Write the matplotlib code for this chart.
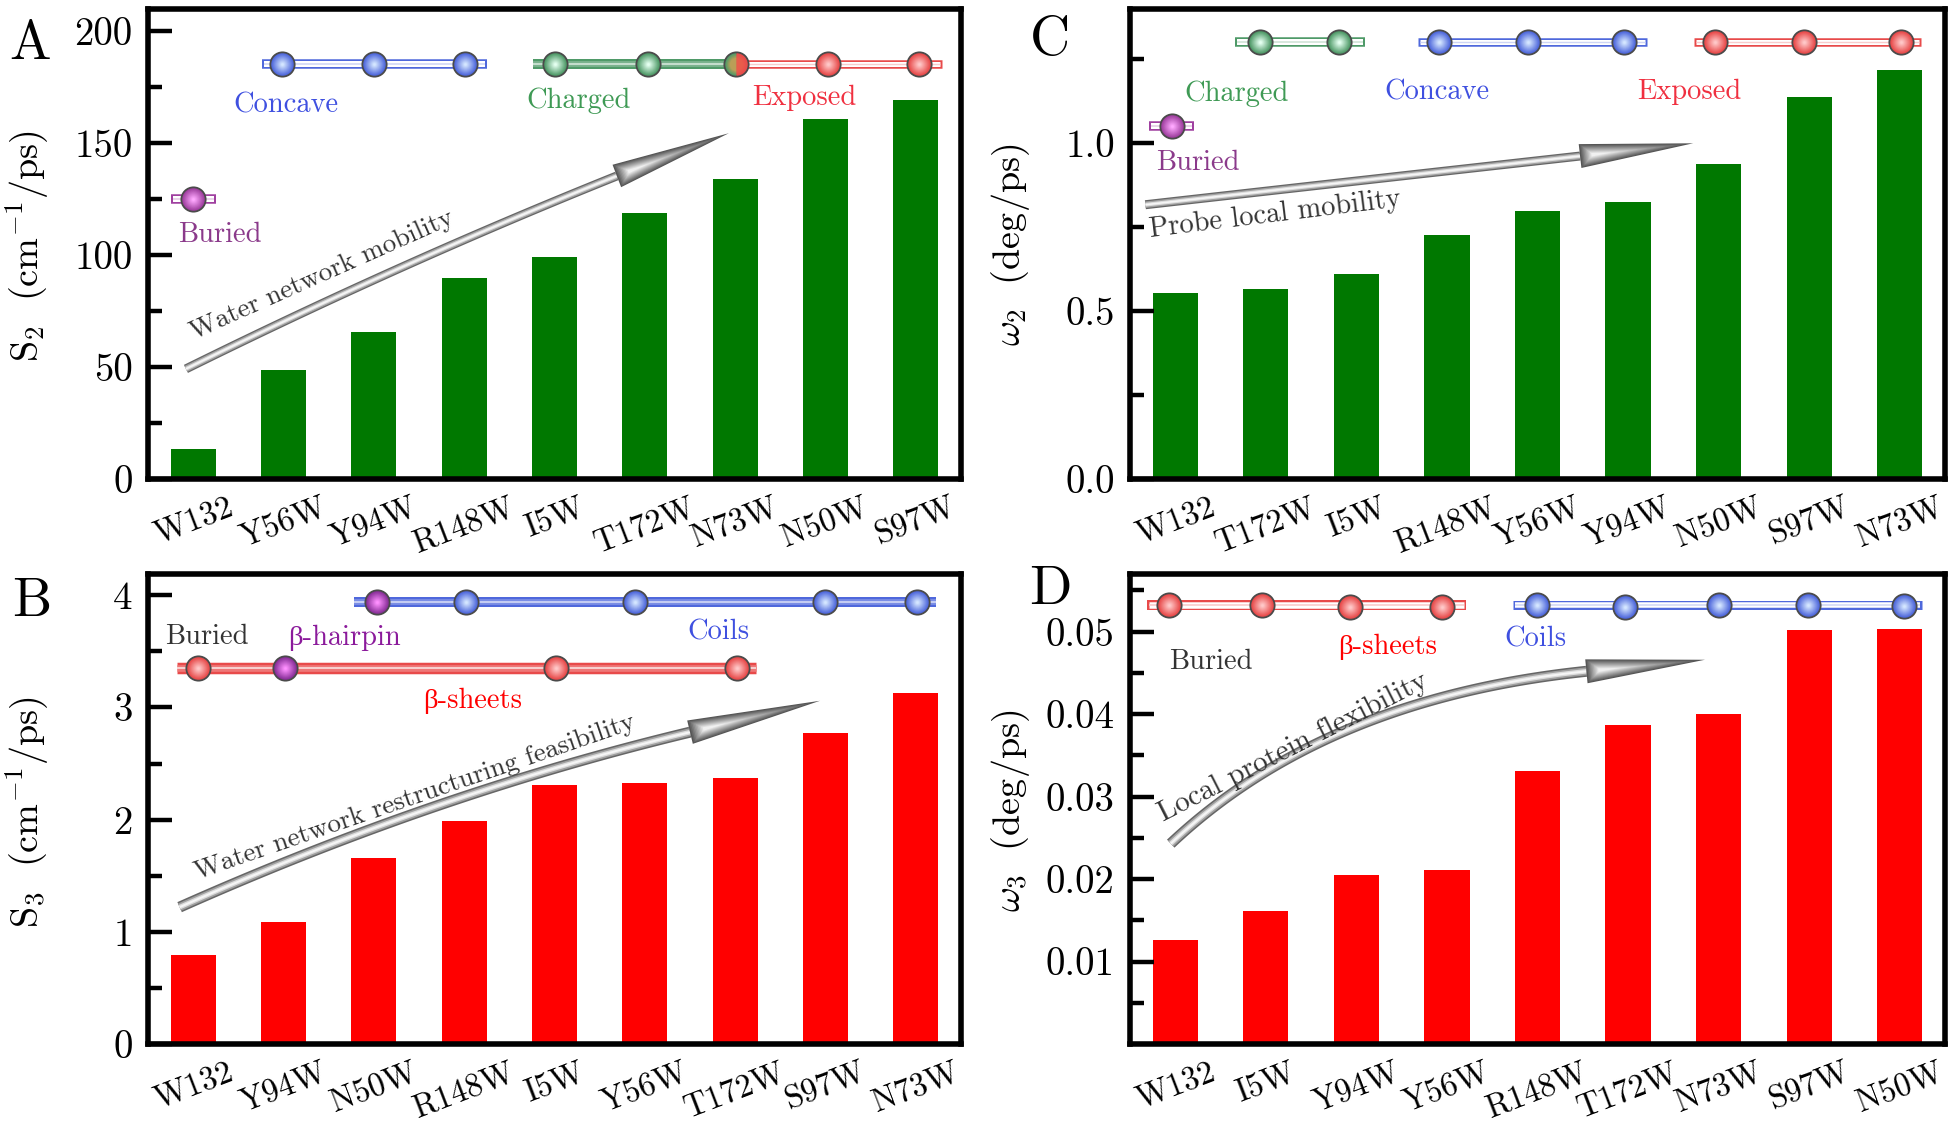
import numpy as np
import matplotlib
matplotlib.use("Agg")
import matplotlib.pyplot as plt
from matplotlib.patches import Polygon
from matplotlib.transforms import IdentityTransform

W, H = 1950, 1121

labels_a = ["W132", "Y56W", "Y94W", "R148W", "I5W", "T172W", "N73W", "N50W", "S97W"]
values_a = [13.4, 48.6, 65.6, 89.8, 99, 119, 134, 161, 169.4]
labels_b = ["W132", "Y94W", "N50W", "R148W", "I5W", "Y56W", "T172W", "S97W", "N73W"]
values_b = [0.796, 1.089, 1.662, 1.99, 2.306, 2.33, 2.37, 2.77, 3.13]
labels_c = ["W132", "T172W", "I5W", "R148W", "Y56W", "Y94W", "N50W", "S97W", "N73W"]
values_c = [0.553, 0.565, 0.612, 0.727, 0.797, 0.826, 0.937, 1.139, 1.218]
labels_d = ["W132", "I5W", "Y94W", "Y56W", "R148W", "T172W", "N73W", "S97W", "N50W"]
values_d = [0.0126, 0.0161, 0.0205, 0.0211, 0.0331, 0.0387, 0.0400, 0.0502, 0.0503]

GREEN = "#007800"
RED = "#ff0000"
TXT_BLUE = "#3f50e0"
TXT_GREEN = "#3f9a55"
TXT_RED = "#f03040"
TXT_PURPLE = "#8b3a8b"
TXT_HAIRPIN = "#8b1a9b"
TXT_DARK = "#333333"

# base colour, centre colour of the beads and tubes
BEADS = {
    "blue": ("#4f68dc", "#d4e6ff"),
    "green": ("#4f9a68", "#e4fff0"),
    "red": ("#e84a4a", "#ffc8c8"),
    "purple": ("#a040a0", "#ffa8ff"),
    "magenta": ("#8a309a", "#ff90ff"),
}

plt.rcParams["font.family"] = ["cmr10", "DejaVu Sans"]
plt.rcParams["mathtext.fontset"] = "cm"
plt.rcParams["axes.formatter.use_mathtext"] = True
plt.rcParams["axes.unicode_minus"] = False

fig = plt.figure(figsize=(W / 100, H / 100), dpi=100)


def make_axes(l, t, r, b):
    return fig.add_axes([l / W, 1 - b / H, (r - l) / W, (b - t) / H])


def mix(c1, c2, f):
    a = np.array(matplotlib.colors.to_rgb(c1))
    b = np.array(matplotlib.colors.to_rgb(c2))
    return tuple(a + (b - a) * f)


def panel(ax, labels, values, color, ylim, major, major_labels, minor):
    ax.bar(range(len(values)), values, width=0.5, color=color)
    ax.set_xlim(-0.5, 8.5)
    ax.set_ylim(*ylim)
    ax.set_xticks(range(len(labels)))
    ax.set_xticklabels(labels, rotation=21, ha="center", fontsize=23.5)
    ax.set_yticks(major)
    ax.set_yticklabels(major_labels, fontsize=28)
    ax.set_yticks(minor, minor=True)
    ax.tick_params(axis="x", length=0, pad=10)
    ax.tick_params(axis="y", which="major", direction="in", length=17, width=3.2, pad=11)
    ax.tick_params(axis="y", which="minor", direction="in", length=10, width=3.2)
    for s in ax.spines.values():
        s.set_linewidth(4)


def tube(ax, x0, x1, y, family, thick=9.5, filled=False):
    base, centre = BEADS[family]
    ax.plot([x0, x1], [y, y], color=base, lw=thick * 0.72, solid_capstyle="butt", zorder=3)
    if filled:
        ax.plot([x0, x1], [y, y], color=mix(base, "white", 0.25), lw=thick * 0.42,
                solid_capstyle="butt", zorder=3.1)
        ax.plot([x0, x1], [y, y], color=mix(base, "white", 0.75), lw=thick * 0.12,
                solid_capstyle="butt", zorder=3.2)
    else:
        ax.plot([x0 + 0.022, x1 - 0.022], [y, y], color="white", lw=(thick - 3.5) * 0.72,
                solid_capstyle="butt", zorder=3.1)
        ax.plot([x0 + 0.022, x1 - 0.022], [y, y], color=mix(base, "white", 0.72), lw=thick * 0.12,
                solid_capstyle="butt", zorder=3.2)


def bead(ax, x, y, family, size=18.8):
    base, centre = BEADS[family]
    ax.scatter([x], [y], s=size ** 2, color="#4a4a4a", linewidths=0, zorder=4)
    for i, f in enumerate(np.linspace(0, 1, 12)):
        d = (size - 2.6) * (1 - f * 0.88)
        ax.scatter([x], [y], s=d ** 2, color=mix(base, centre, f), linewidths=0, zorder=4.1 + i * 0.01)


def split_bead(ax, x, y, left, right, size=18.8):
    ax.scatter([x], [y], s=size ** 2, color="#4a4a4a", linewidths=0, zorder=4)
    for i, f in enumerate(np.linspace(0, 0.7, 8)):
        d = (size - 2.6) * (1 - f * 0.6)
        ax.plot([x], [y], marker="o", ms=d, fillstyle="left", markeredgewidth=0,
                markerfacecolor=mix(BEADS[left][0], "#e8a050", f),
                markerfacecoloralt=mix(BEADS[right][0], "#e8a050", f * 0.3), zorder=4.1 + i * 0.01)


def arrow(ax, start, ctrl, neck, tip, body=9):
    pts = ax.transData.transform([start, ctrl, neck, tip])
    t = np.linspace(0, 1, 80)[:, None]
    curve = (1 - t) ** 2 * pts[0] + 2 * t * (1 - t) * pts[1] + t ** 2 * pts[2]
    for f, col in [(1.0, "#666666"), (0.72, "#a0a0a0"), (0.42, "#dcdcdc"), (0.18, "#f6f6f6")]:
        ax.plot(curve[:, 0], curve[:, 1], color=col, lw=body * f * 0.72, solid_capstyle="butt",
                transform=IdentityTransform(), zorder=3)
    d = pts[3] - pts[2]
    n = np.array([-d[1], d[0]]) / np.hypot(*d)
    for i, f in enumerate(np.linspace(0, 1, 10)):
        half = 12 * (1 - 0.85 * f)
        base_pt = pts[2] + d * 0.1 * f
        end = pts[2] + d * (1 - 0.72 * f)
        col = mix("#555555", "#f0f0f0", f)
        ax.add_patch(Polygon([base_pt + n * half, end, base_pt - n * half], closed=True,
                             facecolor=col, edgecolor="none",
                             transform=IdentityTransform(), zorder=3.2 + i * 0.01))


def note(ax, x, y, s, c, **kw):
    ax.annotate(s, (x, y), xytext=(0, -1.8), textcoords="offset points", color=c,
                fontsize=kw.get("fontsize", 20.5), ha="center", va="center",
                family=["cmr10", "Liberation Serif"])


ax_a = make_axes(148, 9, 961, 479)
ax_c = make_axes(1130, 9, 1945, 479)
ax_b = make_axes(148, 574, 961, 1044)
ax_d = make_axes(1130, 574, 1945, 1044)

panel(ax_a, labels_a, values_a, GREEN, (0, 210), [0, 50, 100, 150, 200],
      ["0", "50", "100", "150", "200"], [25, 75, 125, 175])
panel(ax_b, labels_b, values_b, RED, (0, 4.19), [0, 1, 2, 3, 4],
      ["0", "1", "2", "3", "4"], [0.5, 1.5, 2.5, 3.5])
panel(ax_c, labels_c, values_c, GREEN, (0, 1.40), [0, 0.5, 1.0],
      ["0.0", "0.5", "1.0"], [0.25, 0.75, 1.25])
panel(ax_d, labels_d, values_d, RED, (0, 0.057), [0.01, 0.02, 0.03, 0.04, 0.05],
      ["0.01", "0.02", "0.03", "0.04", "0.05"],
      [0.005, 0.015, 0.025, 0.035, 0.045, 0.055])

# panel A decorations
tube(ax_a, 0.76, 3.25, 185.4, "blue")
tube(ax_a, 3.76, 6.01, 185.4, "green", thick=10, filled=True)
tube(ax_a, 6.01, 8.29, 185.4, "red", thick=8.5)
tube(ax_a, -0.25, 0.25, 125.3, "purple")
for x in [0.98, 2.0, 3.01]:
    bead(ax_a, x, 185.4, "blue")
for x in [4.0, 5.03]:
    bead(ax_a, x, 185.4, "green")
for x in [7.03, 8.03]:
    bead(ax_a, x, 185.4, "red")
split_bead(ax_a, 6.01, 185.4, "green", "red")
bead(ax_a, 0, 125.3, "purple")
for x, y, s, c in [(1.03, 168, "Concave", TXT_BLUE), (4.27, 170, "Charged", TXT_GREEN),
                   (6.77, 171.5, "Exposed", TXT_RED), (0.3, 110, "Buried", TXT_PURPLE)]:
    note(ax_a, x, y, s, c)
arrow(ax_a, (-0.08, 49.2), (2.30, 96.7), (4.69, 135.4), (5.93, 154.5))
ax_a.text(1.43, 91, "Water network mobility", color=TXT_DARK, fontsize=19.5, rotation=24,
          ha="center", va="center")

# panel C decorations
tube(ax_c, 0.66, 2.10, 1.303, "green")
tube(ax_c, 2.68, 5.21, 1.303, "blue", thick=8.5)
tube(ax_c, 5.73, 8.24, 1.303, "red", thick=8.5)
tube(ax_c, -0.29, 0.21, 1.051, "purple")
for x in [0.94, 1.81]:
    bead(ax_c, x, 1.303, "green")
for x in [2.91, 3.90, 4.95]:
    bead(ax_c, x, 1.303, "blue")
for x in [5.96, 6.94, 8.01]:
    bead(ax_c, x, 1.303, "red")
bead(ax_c, -0.04, 1.051, "purple")
for x, y, s, c in [(0.68, 1.156, "Charged", TXT_GREEN), (2.89, 1.159, "Concave", TXT_BLUE),
                   (5.68, 1.161, "Exposed", TXT_RED), (0.25, 0.95, "Buried", TXT_PURPLE)]:
    note(ax_c, x, y, s, c)
arrow(ax_c, (-0.33, 0.817), (2.07, 0.890), (4.47, 0.962), (5.72, 1.0))
ax_c.text(1.10, 0.788, "Probe local mobility", color=TXT_DARK, fontsize=20.5, rotation=7,
          ha="center", va="center")

# panel B decorations
tube(ax_b, 1.78, 8.22, 3.94, "blue", thick=10, filled=True)
tube(ax_b, -0.18, 6.23, 3.35, "red", thick=11.5, filled=True)
bead(ax_b, 2.04, 3.94, "magenta")
for x in [3.02, 4.89, 7.0, 8.01]:
    bead(ax_b, x, 3.94, "blue")
for x in [0.05, 4.02, 6.02]:
    bead(ax_b, x, 3.35, "red")
bead(ax_b, 1.02, 3.35, "magenta")
for x, y, s, c in [(0.15, 3.65, "Buried", TXT_DARK), (1.68, 3.64, "β-hairpin", TXT_HAIRPIN),
                   (5.81, 3.69, "Coils", TXT_BLUE), (3.09, 3.08, "β-sheets", RED)]:
    note(ax_b, x, y, s, c)
arrow(ax_b, (-0.15, 1.22), (2.68, 2.235), (5.50, 2.78), (6.94, 3.06), body=11)
ax_b.text(2.45, 2.2, "Water network restructuring feasibility", color=TXT_DARK, fontsize=19.5,
          rotation=19, ha="center", va="center")

# panel D decorations
tube(ax_d, -0.31, 3.21, 0.0532, "red", thick=10)
tube(ax_d, 3.73, 8.25, 0.0532, "blue", thick=9)
for x, y in [(-0.07, 0.0533), (0.96, 0.0533), (1.93, 0.053), (2.94, 0.053)]:
    bead(ax_d, x, y, "red")
for x, y in [(3.99, 0.0532), (4.97, 0.053), (6.0, 0.0532), (6.99, 0.0532), (8.05, 0.0531)]:
    bead(ax_d, x, y, "blue")
for x, y, s, c in [(0.39, 0.0466, "Buried", TXT_DARK), (2.34, 0.0485, "β-sheets", RED),
                   (3.98, 0.0494, "Coils", TXT_BLUE)]:
    note(ax_d, x, y, s, c)
arrow(ax_d, (-0.05, 0.0243), (1.65, 0.0419), (4.54, 0.0452), (5.85, 0.0466), body=11)
ax_d.text(1.30, 0.036, "Local protein flexibility", color=TXT_DARK, fontsize=21, rotation=27,
          ha="center", va="center")

# y labels and panel letters
for px, py, s in [(27, 246, r"$\mathrm{S_2}\ \ \mathrm{(cm^{-1}/ps)}$"),
                  (27, 812, r"$\mathrm{S_3}\ \ \mathrm{(cm^{-1}/ps)}$"),
                  (1010, 245, r"$\omega_2\ \ \mathrm{(deg/ps)}$"),
                  (1010, 811, r"$\omega_3\ \ \mathrm{(deg/ps)}$")]:
    fig.text(px / W, 1 - py / H, s, rotation=90, fontsize=27.5, ha="center", va="center")
for px, py, s in [(9, 59, "A"), (12, 616, "B"), (1030, 55, "C"), (1029, 604, "D")]:
    fig.text(px / W, 1 - py / H, s, fontsize=40, ha="left", va="baseline")

fig.savefig("out.png", dpi=100, facecolor="white")
